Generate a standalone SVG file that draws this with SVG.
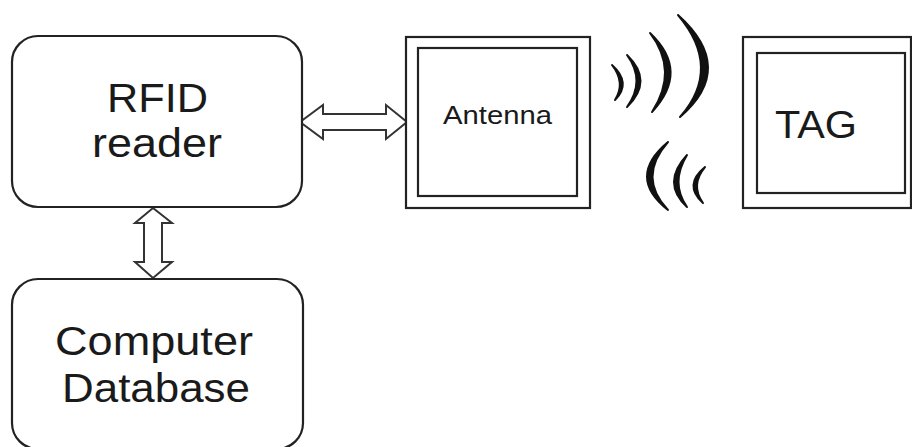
<svg xmlns="http://www.w3.org/2000/svg" width="912" height="447" viewBox="0 0 912 447">
<style>
.box{fill:#fff;stroke:#222;stroke-width:2.2}
.inner{fill:none;stroke:#222;stroke-width:2.2}
.t{font-family:"Liberation Sans",Arial,sans-serif;fill:#1a1a1a}
.arrow{fill:#fff;stroke:#333;stroke-width:2;stroke-linejoin:miter}
.wave{fill:#111;stroke:#111;stroke-width:2;stroke-linejoin:round}
</style>
<rect width="912" height="447" fill="#fff"/>
<g id="connectors">
<path class="arrow" d="M300,122 L323,105 L323,114 L386,114 L386,105 L407,122 L386,139 L386,130 L323,130 L323,139 Z"/>
<path class="arrow" d="M153,208 L172,223 L162,223 L162,262 L172,262 L153,278 L135,262 L144,262 L144,223 L135,223 Z"/>
</g>
<g id="rfid-reader">
<rect class="box" x="12" y="36" width="290" height="171" rx="26" ry="26"/>
<text class="t" x="107" y="112" font-size="40" textLength="101" lengthAdjust="spacingAndGlyphs">RFID</text>
<text class="t" x="92" y="157" font-size="40" textLength="130" lengthAdjust="spacingAndGlyphs">reader</text>
</g>
<g id="computer-database">
<rect class="box" x="12" y="279" width="291" height="170" rx="26" ry="26"/>
<text class="t" x="55" y="355" font-size="40" textLength="198" lengthAdjust="spacingAndGlyphs">Computer</text>
<text class="t" x="62" y="402" font-size="40" textLength="188" lengthAdjust="spacingAndGlyphs">Database</text>
</g>
<g id="antenna">
<rect class="box" x="406" y="37" width="184" height="171"/>
<rect class="inner" x="418" y="48" width="159" height="148"/>
<text class="t" x="443" y="124" font-size="26" textLength="109" lengthAdjust="spacingAndGlyphs">Antenna</text>
</g>
<g id="tag">
<rect class="box" x="743" y="37" width="168" height="171"/>
<rect class="inner" x="757" y="53" width="148" height="140"/>
<text class="t" x="775" y="138" font-size="38" textLength="82" lengthAdjust="spacingAndGlyphs">TAG</text>
</g>
<g id="waves">
<path class="wave" d="M612,65 Q632,83 615,100 Q626,83 612,65 Z"/>
<path class="wave" d="M627,55 Q654,81 627,107 Q646,81 627,55 Z"/>
<path class="wave" d="M650,33 Q690,71 652,112 Q679,71 650,33 Z"/>
<path class="wave" d="M678,15 Q737,68 680,117 Q723,68 678,15 Z"/>
<path class="wave" d="M668,142 Q626,177 668,210 Q637,177 668,142 Z"/>
<path class="wave" d="M687,155 Q661,183 687,207 Q670,183 687,155 Z"/>
<path class="wave" d="M705,167 Q683,185 703,203 Q690,185 705,167 Z"/>
</g>
</svg>
